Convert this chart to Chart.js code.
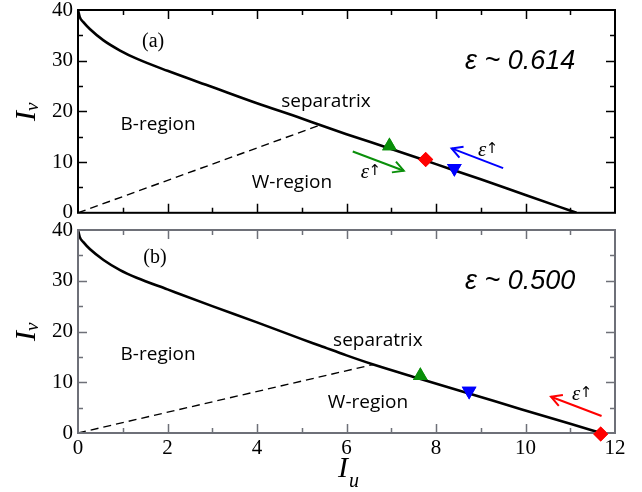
<!DOCTYPE html>
<html>
<head>
<meta charset="utf-8">
<script src="https://cdn.jsdelivr.net/npm/chart.js@4.4.0/dist/chart.umd.min.js"></script>
<style>
  html, body { margin: 0; padding: 0; background: #fff; }
  #wrap { position: relative; width: 642px; height: 492px; }
  canvas { position: absolute; left: 0; }
  #panelA { top: 0; }
  #panelB { top: 220px; }
</style>
</head>
<body>
<div id="wrap">
  <canvas id="panelA" width="642" height="222"></canvas>
  <canvas id="panelB" width="642" height="272"></canvas>
</div>
<script>
// separatrix, panel (a)
const sepA_u = [0, 0.04, 0.12, 0.27, 0.57, 0.94, 1.31, 2.0, 3.0, 4.0, 5.0, 5.41, 6.0, 7.0, 8.0, 9.0, 10.0, 11.14];
const sepA_v = [40, 38.6, 37.6, 36.2, 34.0, 32.0, 30.4, 28.0, 24.8, 21.6, 18.6, 17.3, 15.5, 12.6, 9.6, 6.6, 3.5, 0];
// separatrix, panel (b)
const sepB_u = [0, 0.04, 0.12, 0.27, 0.57, 0.94, 1.31, 2.0, 3.0, 4.0, 5.0, 5.41, 6.0, 6.6, 7.6, 8.7, 9.9, 11.0, 11.69];
const sepB_v = [40, 38.6, 37.6, 36.2, 34.1, 32.1, 30.6, 28.3, 25.0, 21.8, 18.5, 17.2, 15.3, 13.5, 10.8, 7.9, 4.7, 1.8, 0];

// dashed B/W boundary (origin -> separatrix)
const dashA_u = [0, 5.41];
const dashA_v = [0, 17.3];
const dashB_u = [0, 6.6];
const dashB_v = [0, 13.5];

// markers: green up-triangle, red diamond, blue down-triangle
const markA_u = [6.96, 7.77, 8.41];
const markA_v = [13.2, 10.5, 8.8];
const markB_u = [7.65, 11.68, 8.74];
const markB_v = [11.3, -0.2, 8.3];

// arrows, tail -> head
const arrowA_green_u = [6.14, 7.28];
const arrowA_green_v = [12.1, 8.3];
const arrowA_blue_u = [9.50, 8.35];
const arrowA_blue_v = [8.8, 12.7];
const arrowB_red_u = [11.70, 10.57];
const arrowB_red_v = [3.35, 7.15];

// axes
const uTicks = [0, 2, 4, 6, 8, 10, 12];
const vTicks = [0, 10, 20, 30, 40];

// texts
const panelTags = ["(a)", "(b)"];
const epsTexts = ["ε ~ 0.614", "ε ~ 0.500"];
const regionTexts = ["B-region", "W-region", "separatrix"];

const GREEN = "#0a8f0a", RED = "#ff0000", BLUE = "#0000ff";

const zip = (us, vs) => us.map((u, i) => ({ x: u, y: vs[i] }));

function markerSets(us, vs) {
  const styles = [
    { pointStyle: "triangle", rotation: 0, color: GREEN, r: 8.5 },
    { pointStyle: "rectRot", rotation: 0, color: RED, r: 7.5 },
    { pointStyle: "triangle", rotation: 180, color: BLUE, r: 8.5 }
  ];
  return styles.map((s, i) => ({
    type: "scatter",
    data: [{ x: us[i], y: vs[i] }],
    pointStyle: s.pointStyle,
    rotation: s.rotation,
    pointRadius: s.r,
    pointBackgroundColor: s.color,
    pointBorderColor: s.color,
    pointBorderWidth: 0,
    marker: true,
    clip: false
  }));
}

function arrowSet(us, vs, color) {
  return {
    type: "line",
    data: zip(us, vs),
    borderColor: color,
    borderWidth: 2,
    pointRadius: 0,
    arrow: true,
    clip: false
  };
}

// frame + inward ticks, arrow heads, markers on top, texts
const decoPlugin = {
  id: "panelDeco",
  afterDraw(chart, args, opts) {
    const ctx = chart.ctx;
    const a = chart.chartArea;
    const sx = chart.scales.x, sy = chart.scales.y;

    ctx.save();
    ctx.strokeStyle = opts.frameColor;
    ctx.lineWidth = 2;
    ctx.strokeRect(a.left, a.top, a.right - a.left, a.bottom - a.top);
    ctx.lineWidth = 1.5;
    ctx.beginPath();
    for (let u = 1; u < 12; u++) {
      const px = Math.round(sx.getPixelForValue(u)) + 0.5;
      const len = u % 2 === 0 ? 9 : 5;
      ctx.moveTo(px, a.bottom);
      ctx.lineTo(px, a.bottom - len);
      ctx.moveTo(px, a.top);
      ctx.lineTo(px, a.top + len);
    }
    for (let v = 5; v < 40; v += 5) {
      const py = Math.round(sy.getPixelForValue(v)) + 0.5;
      const len = v % 10 === 0 ? 9 : 5;
      ctx.moveTo(a.left, py);
      ctx.lineTo(a.left + len, py);
      ctx.moveTo(a.right, py);
      ctx.lineTo(a.right - len, py);
    }
    ctx.stroke();
    ctx.restore();

    chart.data.datasets.forEach((ds, i) => {
      const meta = chart.getDatasetMeta(i);
      if (ds.marker) {
        meta.data.forEach(el => el.draw(ctx, { left: -1e4, top: -1e4, right: 1e4, bottom: 1e4 }));
      }
      if (!ds.arrow) return;
      const pts = meta.data;
      const p0 = pts[pts.length - 2], p1 = pts[pts.length - 1];
      const ang = Math.atan2(p1.y - p0.y, p1.x - p0.x);
      const L = 12, w = 0.5;
      ctx.save();
      ctx.strokeStyle = ds.borderColor;
      ctx.lineWidth = 2;
      ctx.beginPath();
      ctx.moveTo(p1.x - L * Math.cos(ang - w), p1.y - L * Math.sin(ang - w));
      ctx.lineTo(p1.x, p1.y);
      ctx.lineTo(p1.x - L * Math.cos(ang + w), p1.y - L * Math.sin(ang + w));
      ctx.stroke();
      ctx.restore();
    });

    const notes = opts.notes || [];
    ctx.save();
    ctx.fillStyle = "#000";
    ctx.textAlign = "center";
    ctx.textBaseline = "middle";
    notes.forEach(n => {
      const px = sx.getPixelForValue(n.u), py = sy.getPixelForValue(n.v);
      if (n.epsUp) {
        ctx.font = 'italic 21px "Liberation Serif"';
        ctx.fillText("ε", px - 4, py + 1);
        ctx.font = '15px "DejaVu Sans"';
        ctx.fillText("↑", px + 6, py - 1);
        return;
      }
      ctx.font = n.font;
      ctx.fillText(n.text, px, py);
    });
    // y-axis title I_v, rotated
    ctx.textAlign = "left";
    ctx.textBaseline = "alphabetic";
    ctx.save();
    ctx.translate(35, a.top + 111);
    ctx.rotate(-Math.PI / 2);
    ctx.font = 'italic 30px "Liberation Serif"';
    ctx.fillText("I", 0, 0);
    ctx.font = 'italic 19px "Liberation Serif"';
    ctx.fillText("v", 10, 3);
    ctx.restore();
    if (opts.uTitle) {
      ctx.font = 'italic 30px "Liberation Serif"';
      ctx.fillText("I", 338, 257);
      ctx.font = 'italic 20px "Liberation Serif"';
      ctx.fillText("u", 349, 267);
    }
    ctx.restore();
  }
};

function makePanel(id, cfg) {
  return new Chart(document.getElementById(id), {
    type: "line",
    data: {
      datasets: [
        {
          data: zip(cfg.sepU, cfg.sepV),
          borderColor: "#000",
          borderWidth: 2.6,
          pointRadius: 0,
          cubicInterpolationMode: "monotone"
        },
        {
          data: zip(cfg.dashU, cfg.dashV),
          borderColor: "#000",
          borderWidth: 1.4,
          borderDash: [8, 5],
          pointRadius: 0
        },
        ...cfg.arrows,
        ...markerSets(cfg.markU, cfg.markV)
      ]
    },
    options: {
      responsive: false,
      animation: false,
      devicePixelRatio: 1,
      layout: { padding: { top: 10, right: 27, bottom: cfg.showU ? 0 : 9, left: 0 } },
      plugins: {
        legend: { display: false },
        tooltip: { enabled: false },
        panelDeco: { notes: cfg.notes, uTitle: cfg.showU, frameColor: cfg.frameColor }
      },
      scales: {
        x: {
          type: "linear",
          min: 0, max: 12,
          display: cfg.showU,
          afterBuildTicks: s => { s.ticks = uTicks.map(value => ({ value })); },
          afterFit: s => { s.height = cfg.showU ? 59 : 0; },
          grid: { display: false, drawTicks: false },
          border: { display: false },
          ticks: { color: "#000", padding: 3, font: { family: "Liberation Serif", size: 21 }, maxRotation: 0 }
        },
        y: {
          type: "linear",
          min: 0, max: 40,
          afterBuildTicks: s => { s.ticks = vTicks.map(value => ({ value })); },
          afterFit: s => { s.width = 78; },
          grid: { display: false, drawTicks: false },
          border: { display: false },
          ticks: { color: "#000", padding: 5, font: { family: "Liberation Serif", size: 21, lineHeight: 0.4 } }
        }
      }
    },
    plugins: [decoPlugin]
  });
}

makePanel("panelA", {
  sepU: sepA_u, sepV: sepA_v,
  dashU: dashA_u, dashV: dashA_v,
  markU: markA_u, markV: markA_v,
  arrows: [arrowSet(arrowA_green_u, arrowA_green_v, GREEN), arrowSet(arrowA_blue_u, arrowA_blue_v, BLUE)],
  showU: false,
  frameColor: "#000000",
  notes: [
    { text: panelTags[0], u: 1.68, v: 33.7, font: '20px "Liberation Serif"' },
    { text: regionTexts[0], u: 1.79, v: 17.3, font: '19px "Open Sans"' },
    { text: regionTexts[2], u: 5.54, v: 21.9, font: '19px "Open Sans"' },
    { text: regionTexts[1], u: 4.78, v: 5.9, font: '19px "Open Sans"' },
    { text: epsTexts[0], u: 9.88, v: 29.8, font: 'italic 27px "Liberation Sans"' },
    { epsUp: true, u: 6.50, v: 8.1 },
    { epsUp: true, u: 9.12, v: 12.4 }
  ]
});

makePanel("panelB", {
  sepU: sepB_u, sepV: sepB_v,
  dashU: dashB_u, dashV: dashB_v,
  markU: markB_u, markV: markB_v,
  arrows: [arrowSet(arrowB_red_u, arrowB_red_v, RED)],
  showU: true,
  frameColor: "#6e7078",
  notes: [
    { text: panelTags[1], u: 1.72, v: 34.5, font: '20px "Liberation Serif"' },
    { text: regionTexts[0], u: 1.79, v: 15.4, font: '19px "Open Sans"' },
    { text: regionTexts[2], u: 6.70, v: 18.3, font: '19px "Open Sans"' },
    { text: regionTexts[1], u: 6.48, v: 5.9, font: '19px "Open Sans"' },
    { text: epsTexts[1], u: 9.88, v: 29.8, font: 'italic 27px "Liberation Sans"' },
    { epsUp: true, u: 11.22, v: 7.7 }
  ]
});
</script>
</body>
</html>
